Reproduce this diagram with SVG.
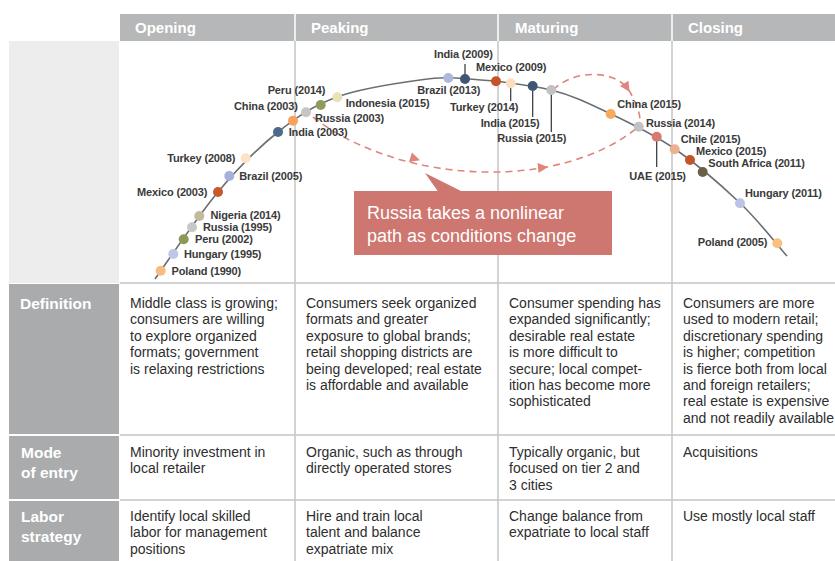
<svg xmlns="http://www.w3.org/2000/svg" width="835" height="561" viewBox="0 0 835 561">
<style>
.hdr{font-family:"Liberation Sans",Arial,sans-serif;font-weight:bold;font-size:15px;fill:#fff}
.rl{font-family:"Liberation Sans",Arial,sans-serif;font-weight:bold;font-size:15.5px;fill:#fff}
.cell{font-family:"Liberation Sans",Arial,sans-serif;font-size:14px;fill:#2e2e2e}
.lbl{font-family:"Liberation Sans",Arial,sans-serif;font-weight:bold;font-size:11px;fill:#3a3a3a;letter-spacing:-0.15px}
.grid{stroke:#c4c4c4;stroke-width:1.5;fill:none}
.tick{stroke:#333;stroke-width:1.2}
.dash{stroke:#e0857b;stroke-width:1.6;stroke-dasharray:7 5;fill:none}
.co{font-family:"Liberation Sans",Arial,sans-serif;font-size:18px;fill:#fff}
</style>
<defs>
<path id="ah" d="M1,0 L-9,-5 L-9,5 Z" fill="#e0857b"/>
</defs>
<rect width="835" height="561" fill="#fff"/>
<!-- header -->
<g id="header">
<rect x="120" y="14" width="715" height="27" fill="#b5b7b8"/>
<line x1="295" y1="14" x2="295" y2="41" stroke="#fff" stroke-width="1.5"/>
<line x1="498" y1="14" x2="498" y2="41" stroke="#fff" stroke-width="1.5"/>
<line x1="672" y1="14" x2="672" y2="41" stroke="#fff" stroke-width="1.5"/>
<text class="hdr" x="135" y="33">Opening</text>
<text class="hdr" x="311" y="33">Peaking</text>
<text class="hdr" x="515" y="33">Maturing</text>
<text class="hdr" x="688" y="33">Closing</text>
</g>
<!-- left column -->
<g id="rowlabels">
<rect x="9" y="41" width="110" height="242" fill="#ededed"/>
<rect x="9" y="284" width="110" height="150" fill="#a9abad"/>
<rect x="9" y="436" width="110" height="63" fill="#a9abad"/>
<rect x="9" y="501" width="110" height="60" fill="#a9abad"/>
<text class="rl" x="20" y="309">Definition</text>
<text class="rl" x="21" y="458">Mode</text>
<text class="rl" x="21" y="478">of entry</text>
<text class="rl" x="21" y="522">Labor</text>
<text class="rl" x="21" y="542">strategy</text>
</g>
<!-- grid -->
<g id="grid">
<line class="grid" x1="295" y1="41" x2="295" y2="561"/>
<line class="grid" x1="498" y1="41" x2="498" y2="561"/>
<line class="grid" x1="672" y1="41" x2="672" y2="561"/>
<line class="grid" x1="120" y1="283" x2="835" y2="283"/>
<line class="grid" x1="120" y1="435" x2="835" y2="435"/>
<line class="grid" x1="120" y1="500" x2="835" y2="500"/>
</g>
<!-- connectors -->
<g id="connectors">
<path d="M155,279 C165.5,264.5 197.5,216.5 218,192 C238.5,167.5 258.2,147.8 278,132 C297.8,116.2 313.3,105.7 337,97 C360.7,88.3 397.8,83 420,80 C442.2,77 448.2,77.3 470,79 C491.8,80.7 527.5,84.2 551,90 C574.5,95.8 590.3,104.2 611,114 C631.7,123.8 653.5,134.2 675,149 C696.5,163.8 721.3,185.2 740,203 C758.7,220.8 779.2,247.2 787,256" fill="none" stroke="#6b6e70" stroke-width="1.6"/>
<path class="dash" d="M313,117 C400,185 560,192 638,127"/>
<path class="dash" d="M553,90 C575,68 618,70 630,92 C636,103 640,112 640,121"/>
<use href="#ah" transform="translate(419,160) rotate(18)"/>
<use href="#ah" transform="translate(547,167) rotate(-6)"/>
<use href="#ah" transform="translate(629,91) rotate(58)"/>
<line class="tick" x1="465" y1="64" x2="465" y2="79"/>
<line class="tick" x1="510.7" y1="83" x2="510.7" y2="101"/>
<line class="tick" x1="532.7" y1="86" x2="532.7" y2="117"/>
<line class="tick" x1="551.3" y1="90" x2="551.3" y2="132"/>
<line class="tick" x1="656.7" y1="137" x2="656.7" y2="167"/>
</g>
<!-- market nodes -->
<g id="poland-1990"><circle cx="160.7" cy="270.7" r="5" fill="#f8bb80"/><text class="lbl" x="171.5" y="275">Poland (1990)</text></g>
<g id="hungary-1995"><circle cx="173.3" cy="254" r="5" fill="#bfc6e6"/><text class="lbl" x="184" y="258">Hungary (1995)</text></g>
<g id="peru-2002"><circle cx="183.7" cy="239.3" r="5" fill="#8c9a58"/><text class="lbl" x="195" y="243">Peru (2002)</text></g>
<g id="russia-1995"><circle cx="192" cy="227.3" r="5" fill="#c7c8c8"/><text class="lbl" x="203" y="231">Russia (1995)</text></g>
<g id="nigeria-2014"><circle cx="199.3" cy="216" r="5" fill="#c6b89c"/><text class="lbl" x="210.5" y="219">Nigeria (2014)</text></g>
<g id="mexico-2003"><circle cx="218" cy="192" r="5" fill="#c55a2e"/><text class="lbl" x="207.3" y="196" text-anchor="end">Mexico (2003)</text></g>
<g id="brazil-2005"><circle cx="229.3" cy="176" r="5" fill="#a7b0da"/><text class="lbl" x="239.3" y="180">Brazil (2005)</text></g>
<g id="turkey-2008"><circle cx="245.7" cy="158.3" r="5" fill="#fde3c4"/><text class="lbl" x="235.3" y="162" text-anchor="end">Turkey (2008)</text></g>
<g id="india-2003"><circle cx="278" cy="132" r="5" fill="#4c6a8a"/><text class="lbl" x="288.7" y="136">India (2003)</text></g>
<g id="china-2003"><circle cx="293" cy="120.7" r="5" fill="#f6a35b"/><text class="lbl" x="297.7" y="110" text-anchor="end">China (2003)</text></g>
<g id="russia-2003"><circle cx="306" cy="112.3" r="5" fill="#c4c6c6"/><text class="lbl" x="315" y="121.7">Russia (2003)</text></g>
<g id="peru-2014"><circle cx="320.7" cy="105" r="5" fill="#8f9b5a"/><text class="lbl" x="267.7" y="94">Peru (2014)</text></g>
<g id="indonesia-2015"><circle cx="337.3" cy="97.3" r="5" fill="#e9e2b6"/><text class="lbl" x="345.7" y="106.7">Indonesia (2015)</text></g>
<g id="brazil-2013"><circle cx="448.3" cy="78" r="5" fill="#b0b7de"/><text class="lbl" x="417.3" y="94">Brazil (2013)</text></g>
<g id="india-2009"><circle cx="465" cy="79" r="5" fill="#3e5874"/><text class="lbl" x="434" y="58">India (2009)</text></g>
<g id="mexico-2009"><circle cx="496" cy="81.3" r="5" fill="#c35529"/><text class="lbl" x="476" y="70.7">Mexico (2009)</text></g>
<g id="turkey-2014"><circle cx="510.7" cy="83.3" r="5" fill="#fddfc0"/><text class="lbl" x="450" y="110.7">Turkey (2014)</text></g>
<g id="india-2015"><circle cx="532.7" cy="86" r="5" fill="#3e5874"/><text class="lbl" x="480.7" y="126.7">India (2015)</text></g>
<g id="russia-2015"><circle cx="551.3" cy="90" r="5" fill="#c0c2c3"/><text class="lbl" x="497.3" y="142.3">Russia (2015)</text></g>
<g id="china-2015"><circle cx="610.7" cy="114" r="5" fill="#f7a95c"/><text class="lbl" x="617.3" y="108">China (2015)</text></g>
<g id="russia-2014"><circle cx="638.7" cy="126.7" r="5" fill="#c0c2c3"/><text class="lbl" x="646" y="126.7">Russia (2014)</text></g>
<g id="uae-2015"><circle cx="656.7" cy="136.7" r="5" fill="#d77a72"/><text class="lbl" x="629.3" y="180">UAE (2015)</text></g>
<g id="chile-2015"><circle cx="674.7" cy="149.3" r="5" fill="#ecb18e"/><text class="lbl" x="680.7" y="143.3">Chile (2015)</text></g>
<g id="mexico-2015"><circle cx="690" cy="160" r="5" fill="#c35529"/><text class="lbl" x="696" y="154.7">Mexico (2015)</text></g>
<g id="southafrica-2011"><circle cx="702.7" cy="172" r="5" fill="#6b6047"/><text class="lbl" x="708.3" y="166.7">South Africa (2011)</text></g>
<g id="hungary-2011"><circle cx="740" cy="203.3" r="5" fill="#bcc2e8"/><text class="lbl" x="745" y="197.3">Hungary (2011)</text></g>
<g id="poland-2005"><circle cx="777.3" cy="243.3" r="5" fill="#fbbf7e"/><text class="lbl" x="767.3" y="246" text-anchor="end">Poland (2005)</text></g>
<!-- callout -->
<g id="callout">
<polygon points="425,173 438,191.5 462,191.5" fill="#ce7670"/>
<rect x="354" y="191" width="258" height="64" fill="#ce7670"/>
<text class="co" x="367" y="219">Russia takes a nonlinear</text>
<text class="co" x="367" y="241.5">path as conditions change</text>
</g>
<!-- table cells -->
<g id="def-opening" class="cell"><text x="130" y="308">Middle class is growing;</text><text x="130" y="324.4">consumers are willing</text><text x="130" y="340.8">to explore organized</text><text x="130" y="357.2">formats; government</text><text x="130" y="373.6">is relaxing restrictions</text></g>
<g id="def-peaking" class="cell"><text x="306" y="308">Consumers seek organized</text><text x="306" y="324.4">formats and greater</text><text x="306" y="340.8">exposure to global brands;</text><text x="306" y="357.2">retail shopping districts are</text><text x="306" y="373.6">being developed; real estate</text><text x="306" y="390">is affordable and available</text></g>
<g id="def-maturing" class="cell"><text x="509" y="308">Consumer spending has</text><text x="509" y="324.4">expanded significantly;</text><text x="509" y="340.8">desirable real estate</text><text x="509" y="357.2">is more difficult to</text><text x="509" y="373.6">secure; local compet-</text><text x="509" y="390">ition has become more</text><text x="509" y="406.4">sophisticated</text></g>
<g id="def-closing" class="cell"><text x="683" y="308">Consumers are more</text><text x="683" y="324.4">used to modern retail;</text><text x="683" y="340.8">discretionary spending</text><text x="683" y="357.2">is higher; competition</text><text x="683" y="373.6">is fierce both from local</text><text x="683" y="390">and foreign retailers;</text><text x="683" y="406.4">real estate is expensive</text><text x="683" y="422.8">and not readily available</text></g>
<g id="mode-opening" class="cell"><text x="130" y="457">Minority investment in</text><text x="130" y="473.4">local retailer</text></g>
<g id="mode-peaking" class="cell"><text x="306" y="457">Organic, such as through</text><text x="306" y="473.4">directly operated stores</text></g>
<g id="mode-maturing" class="cell"><text x="509" y="457">Typically organic, but</text><text x="509" y="473.4">focused on tier 2 and</text><text x="509" y="489.8">3 cities</text></g>
<g id="mode-closing" class="cell"><text x="683" y="457">Acquisitions</text></g>
<g id="labor-opening" class="cell"><text x="130" y="521">Identify local skilled</text><text x="130" y="537.4">labor for management</text><text x="130" y="553.8">positions</text></g>
<g id="labor-peaking" class="cell"><text x="306" y="521">Hire and train local</text><text x="306" y="537.4">talent and balance</text><text x="306" y="553.8">expatriate mix</text></g>
<g id="labor-maturing" class="cell"><text x="509" y="521">Change balance from</text><text x="509" y="537.4">expatriate to local staff</text></g>
<g id="labor-closing" class="cell"><text x="683" y="521">Use mostly local staff</text></g>
</svg>
